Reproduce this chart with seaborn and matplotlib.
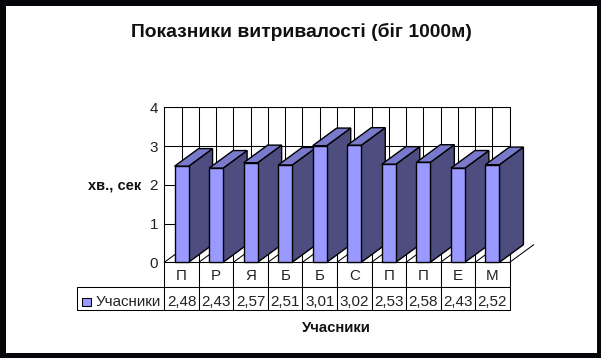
import numpy as np
import pandas as pd
import matplotlib
matplotlib.use("Agg")
import matplotlib.pyplot as plt
from matplotlib.patches import Polygon, Rectangle
import seaborn as sns

title = "Показники витривалості (біг 1000м)"
series_name = "Учасники"
y_label = "хв., сек"
categories = ["П", "Р", "Я", "Б", "Б", "С", "П", "П", "Е", "М"]
values = [2.48, 2.43, 2.57, 2.51, 3.01, 3.02, 2.53, 2.58, 2.43, 2.52]
value_labels = ["2,48", "2,43", "2,57", "2,51", "3,01", "3,02", "2,53", "2,58", "2,43", "2,52"]
y_ticks = [0, 1, 2, 3, 4]

FRONT, TOP, SIDE = "#9999FF", "#7A7ACC", "#4D4D80"
W, H = 601, 358
L, R, T, B = 164.3, 509.7, 107.3, 262.3

sns.set_theme(style="white")
plt.rcParams["font.family"] = ["Liberation Sans", "DejaVu Sans"]
fig = plt.figure(figsize=(W / 100, H / 100), dpi=100, facecolor="#05050A")
# white picture area inside the black frame
fig.add_artist(Rectangle((5.5 / W, 5 / H), (596.5 - 5.5) / W, (352 - 6) / H + 1 / H,
                         transform=fig.transFigure, facecolor="white", edgecolor="none", zorder=-10))
ax = fig.add_axes([L / W, 1 - B / H, (R - L) / W, (B - T) / H], facecolor="white")

# unique x keys so repeated initials stay separate bars
df = pd.DataFrame({"pos": range(len(categories)), "value": values})
sns.barplot(data=df, x="pos", y="value", color=FRONT, saturation=1, width=0.405,
            edgecolor="black", linewidth=1.0, ax=ax, zorder=5)

ax.set_xlim(-0.5, len(categories) - 0.5)
ax.set_ylim(0, 4)
ax.set_yticks(y_ticks)
ax.set_xticks(np.arange(-0.5, len(categories), 0.5))
ax.set_xticklabels([])
ax.set_xlabel("")
ax.set_ylabel("")
ax.grid(True, color="black", linewidth=0.75, zorder=0)
ax.set_axisbelow(True)
ax.tick_params(axis="y", length=0, pad=4.5, labelsize=10.9, labelcolor="#222222")
ax.tick_params(axis="x", length=0)
for s in ax.spines.values():
    s.set_color("black")
    s.set_linewidth(0.75)

# depth of the pseudo-3D extrusion, in data units
dx = 24 / ((R - L) / len(categories))
dy = 17.6 / ((B - T) / 4)

# floor hatching
for x in np.arange(-0.5, len(categories), 1.0):
    ax.plot([x, x + dx], [0, dy], color="black", lw=0.75, zorder=1.5, clip_on=False)

for i, (bar, v) in enumerate(zip(ax.patches, values)):
    x0 = bar.get_x()
    x1 = x0 + bar.get_width()
    bar.set_zorder(3 + i + 0.5)
    side = Polygon([(x1, 0), (x1 + dx, dy), (x1 + dx, v + dy), (x1, v)], closed=True,
                   facecolor=SIDE, edgecolor="black", lw=1.0, clip_on=False, zorder=3 + i)
    top = Polygon([(x0, v), (x0 + dx, v + dy), (x1 + dx, v + dy), (x1, v)], closed=True,
                  facecolor=TOP, edgecolor="black", lw=1.0, clip_on=False, zorder=3 + i)
    ax.add_patch(side)
    ax.add_patch(top)
    bar.set_clip_on(False)

# data table below the axes (bbox covers the grid only; the row label sits to its left)
ax_w, ax_h = R - L, B - T
tbl = ax.table(cellText=[value_labels], colLabels=categories, rowLabels=[series_name],
               bbox=[0, (B - 310) / ax_h, 1, (310 - B) / ax_h],
               cellLoc="center", rowLoc="left")
tbl.auto_set_font_size(False)
tbl.set_fontsize(10.9)
tbl._autoColumns = []  # keep the row-label column at the width set below


def nudge(cell, px):
    """Lower a cell's text by px pixels after the table has placed it."""
    place = cell._set_text_position

    def placed(renderer):
        place(renderer)
        x, y = cell.get_text().get_position()
        cell.get_text().set_position((x, y - px))

    cell._set_text_position = placed


for (r, c), cell in tbl.get_celld().items():
    cell.set_linewidth(0.75)
    cell.set_edgecolor("black")
    cell.get_text().set_color("#222222")
    cell.set_width(0.1 if c >= 0 else (L - 77) / ax_w)
    cell.set_height(25 if r == 0 else 23)
    cell.PAD = 0.03
    if c < 0:
        cell.PAD = 0.21
    nudge(cell, 1.5 if r == 0 else 3)
ax.add_patch(Rectangle(((82.3 - L) / ax_w, (B - 306) / ax_h), 8.5 / ax_w, 8.5 / ax_h,
                       transform=ax.transAxes, facecolor=FRONT, edgecolor="black",
                       lw=0.75, clip_on=False, zorder=20))

fig.text(301 / W, 1 - 32 / H, title, ha="center", va="center", fontsize=13.9,
         fontweight="bold", color="#111111")
fig.text(115 / W, 1 - 186 / H, y_label, ha="center", va="center", fontsize=10.5,
         fontweight="bold", color="#111111")
fig.text(336 / W, 1 - 328.5 / H, series_name, ha="center", va="center", fontsize=10.7,
         fontweight="bold", color="#111111")

fig.savefig("out.png", dpi=100, facecolor=fig.get_facecolor())
